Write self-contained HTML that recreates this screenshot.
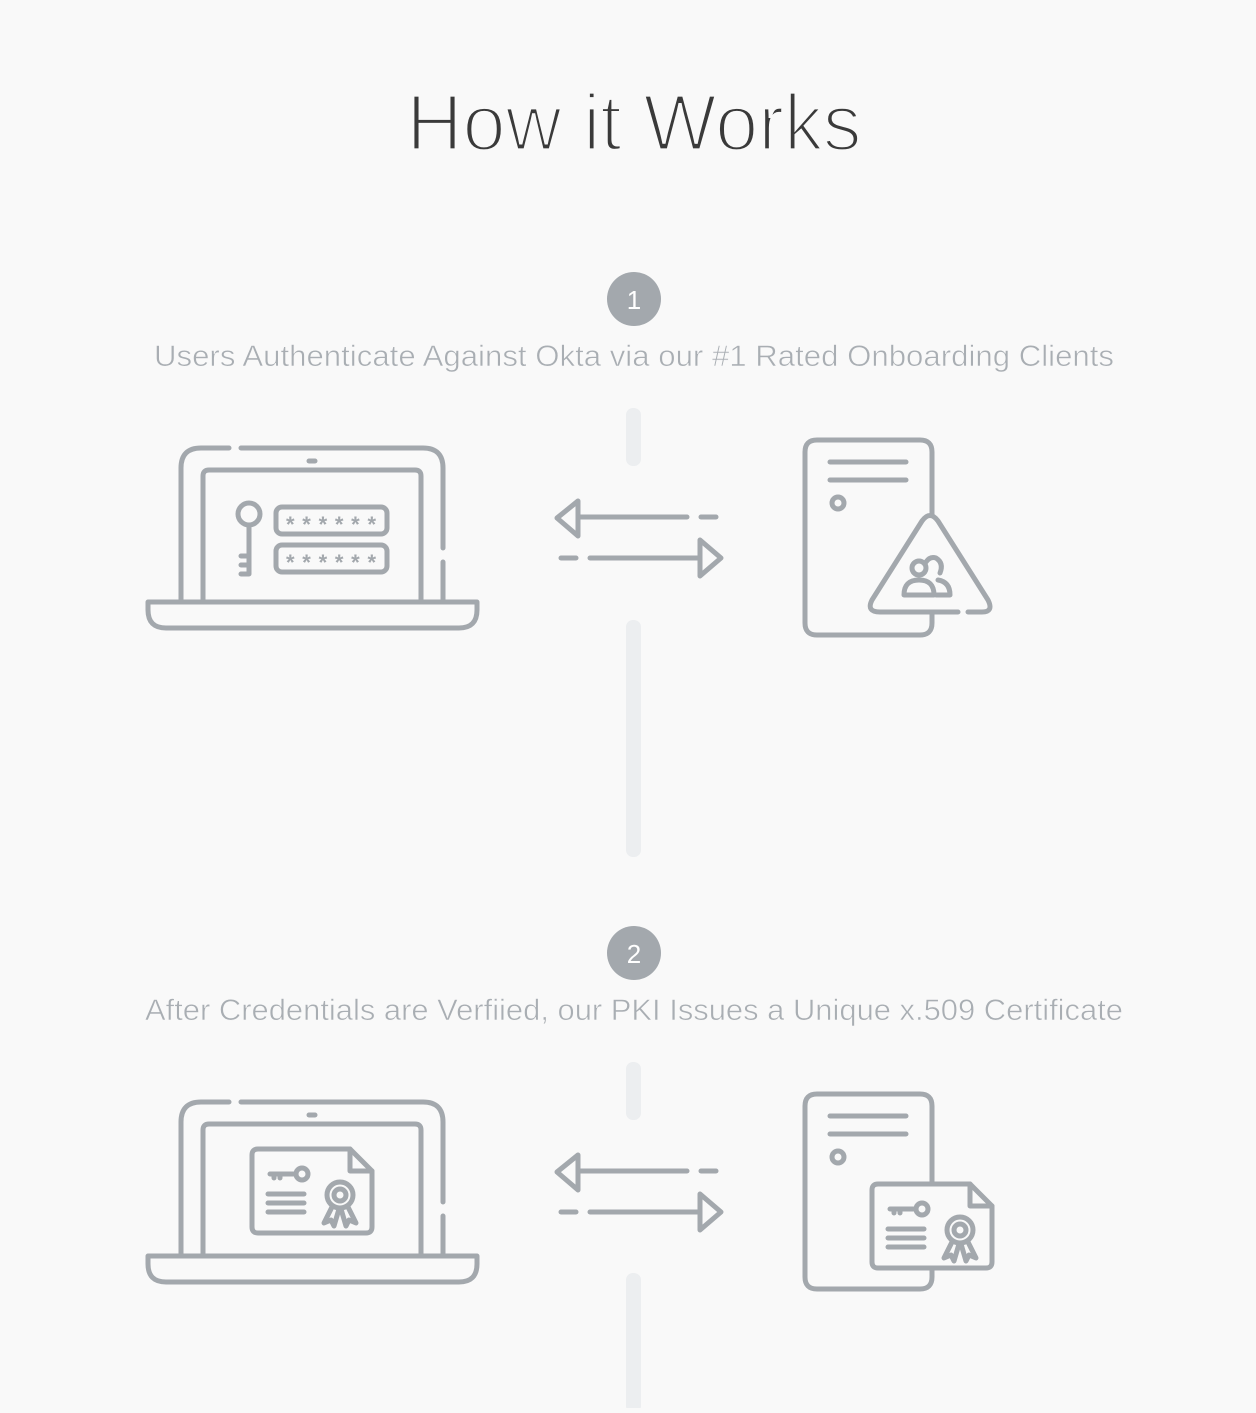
<!DOCTYPE html>
<html><head><meta charset="utf-8"><style>
body{margin:0;background:#f9f9f9;width:1256px;height:1408px;overflow:hidden;font-family:"Liberation Sans",sans-serif}
</style></head><body>
<svg width="1256" height="1408" viewBox="0 0 1256 1408" xmlns="http://www.w3.org/2000/svg">
<rect width="1256" height="1408" fill="#f9f9f9"/>
<text x="634" y="150" text-anchor="middle" font-family="Liberation Sans, sans-serif" font-size="80" fill="#3a3a3a" stroke="#f9f9f9" stroke-width="3.2" textLength="455" lengthAdjust="spacingAndGlyphs">How it Works</text>
<g fill="#eceef0">
<rect x="626" y="408" width="15" height="58" rx="7"/>
<rect x="626" y="620" width="15" height="237" rx="7"/>
<rect x="626" y="1062" width="15" height="58" rx="7"/>
<rect x="626" y="1273" width="15" height="140" rx="7"/>
</g>
<circle cx="634" cy="299" r="27" fill="#a3a8ad"/>
<text x="634" y="309" text-anchor="middle" font-size="26" fill="#fff">1</text>
<text x="634" y="366" text-anchor="middle" font-size="30" fill="#a9aeb3" stroke="#f9f9f9" stroke-width="0.6" textLength="960" lengthAdjust="spacingAndGlyphs">Users Authenticate Against Okta via our #1 Rated Onboarding Clients</text>
<circle cx="634" cy="953" r="27" fill="#a3a8ad"/>
<text x="634" y="963" text-anchor="middle" font-size="26" fill="#fff">2</text>
<text x="634" y="1020" text-anchor="middle" font-size="30" fill="#a9aeb3" stroke="#f9f9f9" stroke-width="0.6" textLength="978" lengthAdjust="spacingAndGlyphs">After Credentials are Verfiied, our PKI Issues a Unique x.509 Certificate</text>

<g fill="none" stroke="#a3a8ad" stroke-width="5" stroke-linecap="round" stroke-linejoin="round">
<g>
 <path d="M181 602 V468 Q181 448 201 448 H229 M241 448 H423 Q443 448 443 468 V548 M443 562 V602"/>
 <path d="M203 602 V476 Q203 470 209 470 H415 Q421 470 421 476 V602"/>
 <path d="M148 602 H477 V610 Q477 628 459 628 H166 Q148 628 148 610 Z"/>
 <line x1="309" y1="461" x2="315" y2="461"/>
 <path d="M578 501 L557 518 L578 536 Z"/>
 <line x1="580" y1="517" x2="687" y2="517"/>
 <line x1="701" y1="517" x2="716" y2="517"/>
 <line x1="561" y1="558" x2="576" y2="558"/>
 <line x1="590" y1="558" x2="700" y2="558"/>
 <path d="M700 540 L721 558 L700 576 Z"/>
 <path d="M932 515 V452 Q932 440 920 440 H817 Q805 440 805 452 V623 Q805 635 817 635 H920 Q932 635 932 623 V613"/>
 <line x1="830" y1="462" x2="906" y2="462"/>
 <line x1="830" y1="480" x2="906" y2="480"/>
 <circle cx="838" cy="503" r="6"/>
</g>
<g transform="translate(0,654)">
 <path d="M181 602 V468 Q181 448 201 448 H229 M241 448 H423 Q443 448 443 468 V548 M443 562 V602"/>
 <path d="M203 602 V476 Q203 470 209 470 H415 Q421 470 421 476 V602"/>
 <path d="M148 602 H477 V610 Q477 628 459 628 H166 Q148 628 148 610 Z"/>
 <line x1="309" y1="461" x2="315" y2="461"/>
 <path d="M578 501 L557 518 L578 536 Z"/>
 <line x1="580" y1="517" x2="687" y2="517"/>
 <line x1="701" y1="517" x2="716" y2="517"/>
 <line x1="561" y1="558" x2="576" y2="558"/>
 <line x1="590" y1="558" x2="700" y2="558"/>
 <path d="M700 540 L721 558 L700 576 Z"/>
 <path d="M932 530 V452 Q932 440 920 440 H817 Q805 440 805 452 V623 Q805 635 817 635 H920 Q932 635 932 623 V614"/>
 <line x1="830" y1="462" x2="906" y2="462"/>
 <line x1="830" y1="480" x2="906" y2="480"/>
 <circle cx="838" cy="503" r="6"/>
</g>
<circle cx="249" cy="514" r="11"/>
<path d="M249 525 V574 H241 M249 565 H241 M249 556 H241"/>
<rect x="276" y="507" width="111" height="27" rx="6"/>
<rect x="276" y="545" width="111" height="27" rx="6"/>
<!-- triangle + users -->
<path d="M880 612 Q866 612 872 600 L922 521 Q930 510 938 521 L988 600 Q994 612 982 612 Z" fill="#f9f9f9" stroke="none"/>
<path d="M958 612 H880 Q866 612 872 600 L922 521 Q930 510 938 521 L988 600 Q994 612 982 612 H968"/>
<circle cx="919" cy="568" r="7"/>
<path d="M904 595 Q904 580 919 580 Q934 580 934 595 Z"/>
<path d="M926 562 Q930 556 936 558 Q944 563 940 573 M938 580 Q950 582 950 595 H936"/>
<g transform="translate(252,1149)">
 <path d="M0 78 V6 Q0 0 6 0 H98 L120 22 V78 Q120 84 114 84 H6 Q0 84 0 78 Z" fill="#f9f9f9"/>
 <path d="M98 0 V22 H120"/>
 <circle cx="50" cy="25" r="6"/>
 <path d="M44 25 H18 M22 25 V29 M28 25 V29"/>
 <line x1="16" y1="45" x2="52" y2="45"/>
 <line x1="16" y1="54" x2="52" y2="54"/>
 <line x1="16" y1="63" x2="52" y2="63"/>
 <circle cx="88" cy="46" r="13"/>
 <circle cx="88" cy="46" r="6"/>
 <path d="M80 58 L72 74 L79 71 L82 77 L87 60 M96 58 L104 74 L97 71 L94 77 L89 60"/>
</g>
<g transform="translate(872,1184)">
 <path d="M0 78 V6 Q0 0 6 0 H98 L120 22 V78 Q120 84 114 84 H6 Q0 84 0 78 Z" fill="#f9f9f9"/>
 <path d="M98 0 V22 H120"/>
 <circle cx="50" cy="25" r="6"/>
 <path d="M44 25 H18 M22 25 V29 M28 25 V29"/>
 <line x1="16" y1="45" x2="52" y2="45"/>
 <line x1="16" y1="54" x2="52" y2="54"/>
 <line x1="16" y1="63" x2="52" y2="63"/>
 <circle cx="88" cy="46" r="13"/>
 <circle cx="88" cy="46" r="6"/>
 <path d="M80 58 L72 74 L79 71 L82 77 L87 60 M96 58 L104 74 L97 71 L94 77 L89 60"/>
</g>
</g>
<g font-size="22" fill="#a3a8ad" text-anchor="middle" font-weight="bold">
<text x="331" y="532" textLength="90" lengthAdjust="spacing">******</text>
<text x="331" y="570" textLength="90" lengthAdjust="spacing">******</text>
</g>
</svg>
</body></html>
